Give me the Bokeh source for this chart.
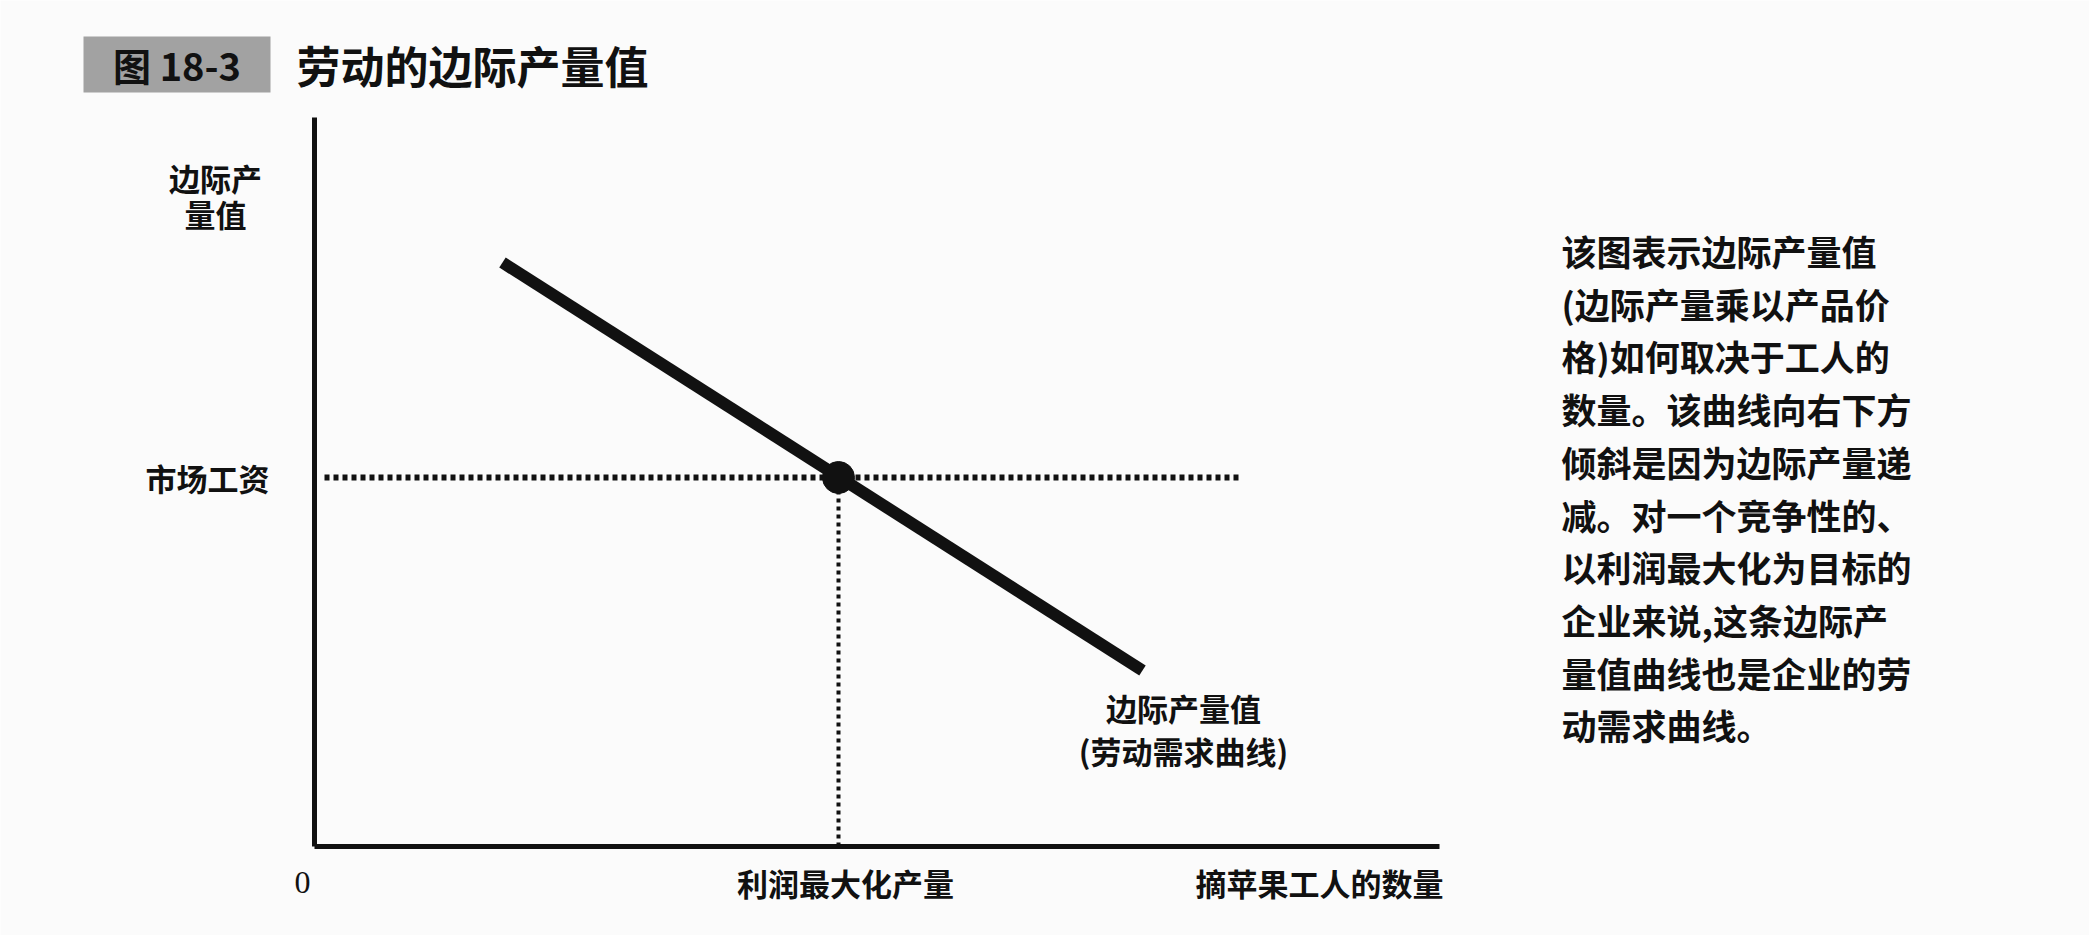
from bokeh.plotting import figure
from bokeh.models import Range1d, ColumnDataSource, BoxAnnotation
from bokeh.core.properties import value
from bokeh.embed import file_html
from bokeh.resources import INLINE

# ---- data (abstract units: workers on x, value of marginal product on y) ----
workers = [1.88, 8.28]          # ends of the VMPL curve
vmpl = [5.84, 1.76]
market_wage = 3.69
optimal_workers = 5.24
wage_line_x = [0.10, 9.25]
y_axis_top = 7.29
x_axis_end = 11.25

title_tag = "图 18-3"
title_text = "劳动的边际产量值"
y_label_lines = ["边际产", "量值"]
wage_label = "市场工资"
origin_label = "0"
opt_label = "利润最大化产量"
x_label = "摘苹果工人的数量"
curve_label_lines = ["边际产量值", "(劳动需求曲线)"]
caption_lines = [
    "该图表示边际产量值",
    "(边际产量乘以产品价",
    "格)如何取决于工人的",
    "数量。该曲线向右下方",
    "倾斜是因为边际产量递",
    "减。对一个竞争性的、",
    "以利润最大化为目标的",
    "企业来说,这条边际产",
    "量值曲线也是企业的劳",
    "动需求曲线。",
]

W, H = 2089, 935
OX, OY, PX = 314, 846, 100.0   # origin in pixels, pixels per unit

p = figure(width=W, height=H, output_backend="svg", toolbar_location=None,
           x_axis_type=None, y_axis_type=None,
           x_range=Range1d(-OX / PX, (W - OX) / PX),
           y_range=Range1d(-(H - OY) / PX, OY / PX),
           min_border=0, background_fill_color="#fbfbfb",
           border_fill_color="#fbfbfb")
p.outline_line_color = None
p.grid.visible = False

ink = "#111111"
cjk = value("Noto Sans CJK SC")

# figure tag box (drawn beneath the glyphs)
p.add_layout(BoxAnnotation(left=-2.31, right=-0.44, bottom=7.54, top=8.10,
                           fill_color="#a2a2a2", fill_alpha=1, line_color=None,
                           level="underlay"))

# axes
p.line([0, 0], [0, y_axis_top], line_color=ink, line_width=5)
p.line([0, x_axis_end], [0, 0], line_color=ink, line_width=5)

# market wage and profit-maximising quantity guides
p.line(wage_line_x, [market_wage, market_wage], line_color=ink, line_width=6,
       line_dash="5 4", line_cap="butt")
p.line([optimal_workers, optimal_workers], [0, market_wage], line_color=ink,
       line_width=4, line_dash="4 4", line_cap="butt")

# value of marginal product curve
p.line(workers, vmpl, line_color=ink, line_width=12, line_cap="butt")
p.scatter([optimal_workers], [market_wage], size=32, color=ink)

# figure tag and title
p.text(x=[-1.375], y=[7.82], text=[title_tag], text_font=cjk,
       text_font_style="bold", text_font_size="38px", text_color=ink,
       text_align="center", text_baseline="middle")
p.text(x=[-0.18], y=[7.82], text=[title_text], text_font=cjk,
       text_font_style="bold", text_font_size="44px", text_color=ink,
       text_align="left", text_baseline="middle")

lab = dict(text_font=cjk, text_font_style="bold", text_font_size="31px",
           text_color=ink, text_baseline="middle")

# y-axis title
p.text(x=[-0.99, -0.99], y=[6.69, 6.33], text=y_label_lines,
       text_align="center", **lab)
# wage label
p.text(x=[-0.45], y=[market_wage], text=[wage_label], text_align="right", **lab)
# x-axis texts
p.text(x=[-0.12], y=[-0.36], text=[origin_label], text_align="center",
       text_font=value("Liberation Serif"), text_font_size="32px",
       text_color=ink, text_baseline="middle")
p.text(x=[optimal_workers + 0.07], y=[-0.36], text=[opt_label],
       text_align="center", **lab)
p.text(x=[x_axis_end + 0.04], y=[-0.36], text=[x_label], text_align="right", **lab)
# curve label
p.text(x=[8.69, 8.69], y=[1.39, 0.96], text=curve_label_lines,
       text_align="center", **lab)

# caption block on the right
cap_y = [5.96 - 0.527 * i for i in range(len(caption_lines))]
cap_src = ColumnDataSource(dict(x=[12.47] * len(caption_lines), y=cap_y,
                                t=caption_lines))
p.text(x="x", y="y", text="t", source=cap_src, text_font=cjk,
       text_font_style="bold", text_font_size="35px", text_color=ink,
       text_align="left", text_baseline="middle")

open("out.html", "w").write(file_html(p, INLINE))
